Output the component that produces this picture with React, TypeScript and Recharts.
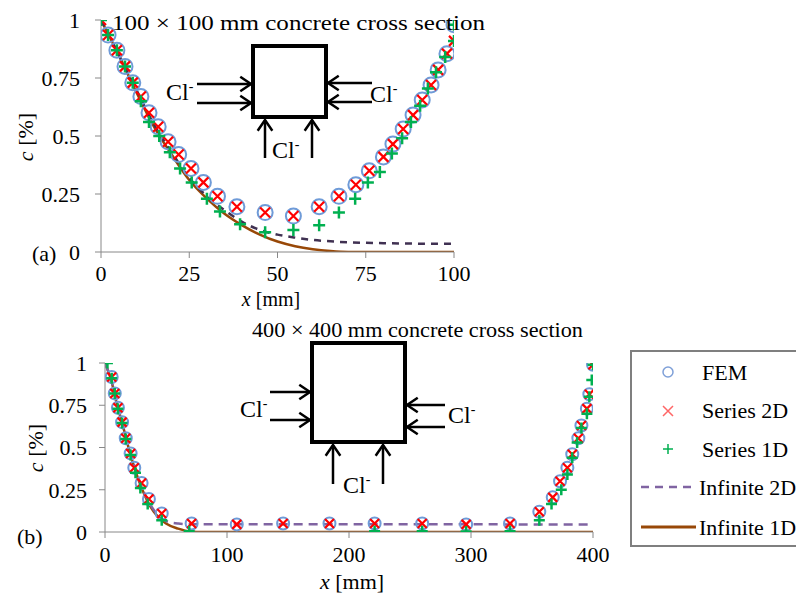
import React from "react";
import { ComposedChart, Line, Scatter, XAxis, YAxis } from "recharts";

type Pt = { x: number; y: number };
const pts = (a: number[][]): Pt[] => a.map(([x, y]) => ({ x, y }));

// (a) 100 x 100 mm section
const femA = pts([
  [2, 0.935], [4.5, 0.87], [6.8, 0.8], [9, 0.73], [11.3, 0.67], [13.6, 0.6], [16.2, 0.54],
  [19, 0.475], [22, 0.42], [25.5, 0.36], [29, 0.3], [33, 0.24], [38.5, 0.195], [46.5, 0.17],
  [54.5, 0.155], [61.8, 0.195], [67.4, 0.24], [72.2, 0.29], [76, 0.35], [80, 0.41],
  [82.7, 0.465], [85.6, 0.53], [88.4, 0.59], [91, 0.655], [93.5, 0.72], [95.5, 0.785],
  [98, 0.855], [100, 0.98],
]);
const series2dA = pts([
  [0, 1], [2, 0.935], [4.5, 0.87], [6.8, 0.8], [9, 0.73], [11.3, 0.67], [13.6, 0.6], [16.2, 0.54],
  [19, 0.475], [22, 0.42], [25.5, 0.36], [29, 0.3], [33, 0.24], [38.5, 0.195], [46.5, 0.17],
  [54.5, 0.155], [61.8, 0.195], [67.4, 0.24], [72.2, 0.29], [76, 0.35], [80, 0.41],
  [82.7, 0.465], [85.6, 0.53], [88.4, 0.59], [91, 0.655], [93.5, 0.72], [95.5, 0.785],
  [98, 0.855], [100, 0.91],
]);
const series1dA = pts([
  [0, 1], [2, 0.935], [4.5, 0.87], [6.8, 0.8], [9, 0.73], [11.3, 0.65], [13.6, 0.56], [16.5, 0.5],
  [19.5, 0.43], [22.4, 0.36], [25.7, 0.3], [30, 0.23], [33.7, 0.175], [39.4, 0.12], [46.5, 0.085],
  [54.5, 0.095], [61.8, 0.115], [67.4, 0.17], [72, 0.23], [75.6, 0.3], [79, 0.345], [82.4, 0.425],
  [85.3, 0.49], [87.8, 0.56], [90.4, 0.63], [92.6, 0.705], [94.9, 0.775], [97.5, 0.84],
  [100, 0.91], [100, 0.98],
]);
const inf2dA = pts([
  [0, 1], [5, 0.85], [10, 0.7], [15, 0.55], [20, 0.43], [25, 0.32], [30, 0.24], [35, 0.18],
  [40, 0.13], [45, 0.095], [50, 0.075], [55, 0.062], [60, 0.052], [65, 0.046], [70, 0.042],
  [80, 0.038], [100, 0.035],
]);
const inf1dA = pts([
  [0, 1], [5, 0.85], [10, 0.69], [15, 0.54], [20, 0.42], [25, 0.31], [30, 0.23], [35, 0.165],
  [40, 0.115], [45, 0.075], [50, 0.045], [55, 0.025], [60, 0.012], [65, 0.004], [70, 0], [100, 0],
]);

// (b) 400 x 400 mm section
const femB = pts([
  [5.5, 0.917], [8, 0.82], [10.6, 0.735], [14, 0.65], [17, 0.555], [21, 0.465], [24, 0.38],
  [30, 0.29], [36, 0.195], [46.5, 0.11], [71, 0.05], [108, 0.045], [146, 0.05], [184, 0.05],
  [221, 0.05], [260, 0.05], [296, 0.045], [332, 0.05], [356, 0.12], [367, 0.205], [373, 0.3],
  [379, 0.38], [383, 0.46], [388, 0.555], [390.5, 0.63], [395, 0.73], [397, 0.815], [400, 0.99],
]);
const series2dB = femB;
const series1dB = pts([
  [2, 1], [5.5, 0.91], [8, 0.82], [10.6, 0.73], [14, 0.645], [17, 0.55], [21, 0.455], [25, 0.35],
  [29, 0.26], [35, 0.165], [46.5, 0.07], [69, 0.005], [221, 0.005], [260, 0.005], [296, 0.003],
  [332, 0.005], [356, 0.07], [366, 0.165], [374, 0.25], [379, 0.34], [383, 0.44], [387, 0.53],
  [390.5, 0.615], [395, 0.7], [397, 0.8], [399, 0.9], [400, 0.99],
]);
const inf2dB = pts([
  [0, 1], [5, 0.9], [10, 0.76], [15, 0.62], [20, 0.49], [25, 0.37], [30, 0.27], [35, 0.19],
  [40, 0.13], [45, 0.09], [50, 0.065], [60, 0.05], [70, 0.046], [400, 0.045],
]);
const inf1dB = pts([
  [0, 1], [5, 0.9], [10, 0.75], [15, 0.62], [20, 0.48], [25, 0.36], [30, 0.26], [35, 0.18],
  [40, 0.12], [45, 0.08], [50, 0.05], [60, 0.02], [70, 0.003], [80, 0], [400, 0],
]);

const yTicks = [0, 0.25, 0.5, 0.75, 1];
const xTicksA = [0, 25, 50, 75, 100];
const xTicksB = [0, 100, 200, 300, 400];

const FONT = '"Liberation Serif", "Times New Roman", serif';
const AXIS = "#888888";
const BLUE = "#6F9BD8";
const RED = "#FF0000";
const GREEN = "#00B050";
const BROWN = "#984807";

const circleShape = (r: number) => (p: any) => (
  <circle cx={p.cx} cy={p.cy} r={r} fill="none" stroke={BLUE} strokeWidth={2} />
);
const crossShape = (h: number) => (p: any) => (
  <path d={`M${p.cx - h},${p.cy - h}L${p.cx + h},${p.cy + h}M${p.cx - h},${p.cy + h}L${p.cx + h},${p.cy - h}`} stroke={RED} strokeWidth={2.2} />
);
const plusShape = (h: number) => (p: any) => (
  <path d={`M${p.cx - h},${p.cy}L${p.cx + h},${p.cy}M${p.cx},${p.cy - h}L${p.cx},${p.cy + h}`} stroke={GREEN} strokeWidth={2.5} />
);

const tickStyle = { fill: "#000", fontSize: 22, fontFamily: FONT };

function Panel(props: {
  width: number; height: number; margin: any; xTicks: number[]; xMax: number;
  fem: Pt[]; s2: Pt[]; s1: Pt[]; i2: Pt[]; i1: Pt[]; dash: string; dashColor: string;
  r: number; h: number; xMargin: number; yMargin: number;
}) {
  const p = props;
  return (
    <ComposedChart width={p.width} height={p.height} margin={p.margin}>
      <XAxis type="number" dataKey="x" domain={[0, p.xMax]} ticks={p.xTicks} height={30}
        stroke={AXIS} tickSize={6} tickMargin={p.xMargin} tick={tickStyle} allowDataOverflow />
      <YAxis type="number" dataKey="y" domain={[0, 1]} ticks={yTicks} width={60}
        stroke={AXIS} tickSize={6} tickMargin={p.yMargin} tick={tickStyle} allowDataOverflow />
      <Line data={p.i1} dataKey="y" stroke={BROWN} strokeWidth={2.5} dot={false} isAnimationActive={false} type="monotone" />
      <Line data={p.i2} dataKey="y" stroke={p.dashColor} strokeWidth={2.5} strokeDasharray={p.dash} dot={false} isAnimationActive={false} type="monotone" />
      <Scatter data={p.fem} dataKey="y" shape={circleShape(p.r)} isAnimationActive={false} />
      <Scatter data={p.s2} dataKey="y" shape={crossShape(p.h)} isAnimationActive={false} />
      <Scatter data={p.s1} dataKey="y" shape={plusShape(p.h + 1)} isAnimationActive={false} />
    </ComposedChart>
  );
}

const Arrow = ({ x1, y1, x2, y2 }: { x1: number; y1: number; x2: number; y2: number }) => {
  const a = Math.atan2(y2 - y1, x2 - x1);
  const L = 13, s = 0.6;
  const p1 = [x2 - L * Math.cos(a - s), y2 - L * Math.sin(a - s)];
  const p2 = [x2 - L * Math.cos(a + s), y2 - L * Math.sin(a + s)];
  return (
    <g stroke="#000" strokeWidth={2.5} fill="none">
      <line x1={x1} y1={y1} x2={x2} y2={y2} />
      <polyline points={`${p1[0]},${p1[1]} ${x2},${y2} ${p2[0]},${p2[1]}`} />
    </g>
  );
};

const Cl = ({ x, y }: { x: number; y: number }) => (
  <text x={x} y={y} fontSize={24} fontFamily={FONT} fill="#000">
    Cl<tspan dy={-9} fontSize={14}>-</tspan>
  </text>
);

export default function App() {
  return (
    <div style={{ position: "absolute", left: 0, top: 0, width: 796, height: 594, background: "#fff", fontFamily: FONT }}>
      <div style={{ position: "absolute", left: 0, top: 0 }}>
        <Panel width={796} height={300} margin={{ top: 20, right: 342, bottom: 18, left: 41 }}
          xTicks={xTicksA} xMax={100} fem={femA} s2={series2dA} s1={series1dA} i2={inf2dA} i1={inf1dA}
          dash="7 6" dashColor="#403152" r={7.5} h={5} xMargin={7} yMargin={15} />
      </div>
      <div style={{ position: "absolute", left: 0, top: 330 }}>
        <Panel width={796} height={264} margin={{ top: 33, right: 203, bottom: 32, left: 45 }}
          xTicks={xTicksB} xMax={400} fem={femB} s2={series2dB} s1={series1dB} i2={inf2dB} i1={inf1dB}
          dash="9 6" dashColor="#8064A2" r={6} h={4.5} xMargin={8} yMargin={12} />
      </div>
      <svg width={796} height={594} style={{ position: "absolute", left: 0, top: 0, pointerEvents: "none" }}>
        <g fontFamily={FONT} fill="#000">
          <text x={112} y={30} fontSize={22} textLength={373} lengthAdjust="spacingAndGlyphs">100 × 100  mm concrete cross section</text>
          <text x={252} y={337} fontSize={22} textLength={331} lengthAdjust="spacingAndGlyphs">400 × 400 mm concrete cross section</text>
          <text x={32} y={261} fontSize={22}>(a)</text>
          <text x={17} y={544} fontSize={22}>(b)</text>
          <text x={25} y={137} fontSize={22} textAnchor="middle" dominantBaseline="central" transform="rotate(-90 25 137)">
            <tspan fontStyle="italic">c</tspan> [%]
          </text>
          <text x={35} y={448} fontSize={22} textAnchor="middle" dominantBaseline="central" transform="rotate(-90 35 448)">
            <tspan fontStyle="italic">c</tspan> [%]
          </text>
          <text x={271} y={306} fontSize={20} textAnchor="middle">
            <tspan fontStyle="italic">x</tspan> [mm]
          </text>
          <text x={352} y={589} fontSize={22} textAnchor="middle">
            <tspan fontStyle="italic">x</tspan> [mm]
          </text>
        </g>

        {/* inset (a) */}
        <rect x={253} y={46} width={73} height={71} fill="#fff" stroke="#000" strokeWidth={4} />
        <Arrow x1={197} y1={84} x2={251} y2={84} />
        <Arrow x1={197} y1={103} x2={251} y2={103} />
        <Arrow x1={372} y1={83} x2={328} y2={83} />
        <Arrow x1={372} y1={102} x2={328} y2={102} />
        <Arrow x1={265} y1={158} x2={265} y2={120} />
        <Arrow x1={312} y1={158} x2={312} y2={120} />
        <Cl x={166} y={100} />
        <Cl x={370} y={102} />
        <Cl x={272} y={158} />

        {/* inset (b) */}
        <rect x={312} y={343} width={93} height={99} fill="#fff" stroke="#000" strokeWidth={4} />
        <Arrow x1={270} y1={392} x2={310} y2={392} />
        <Arrow x1={270} y1={420} x2={310} y2={420} />
        <Arrow x1={445} y1={405} x2={407} y2={405} />
        <Arrow x1={445} y1={427} x2={407} y2={427} />
        <Arrow x1={333} y1={484} x2={333} y2={445} />
        <Arrow x1={383} y1={484} x2={383} y2={445} />
        <Cl x={240} y={417} />
        <Cl x={448} y={423} />
        <Cl x={343} y={493} />

        {/* legend */}
        <rect x={631} y={351} width={180} height={195} fill="#fff" stroke="#7F7F7F" strokeWidth={2} />
        <circle cx={668} cy={372} r={5} fill="none" stroke="#7FA0D8" strokeWidth={1.5} />
        <path d="M663,406L673,416M663,416L673,406" stroke="#FF6666" strokeWidth={1.5} />
        <path d="M663,449L673,449M668,444L668,454" stroke={GREEN} strokeWidth={1.5} />
        <line x1={641} y1={487} x2={694} y2={487} stroke="#8064A2" strokeWidth={2.5} strokeDasharray="8 6" />
        <line x1={641} y1={527} x2={696} y2={527} stroke={BROWN} strokeWidth={3} />
        <g fontFamily={FONT} fontSize={22} fill="#000">
          <text x={702} y={380}>FEM</text>
          <text x={702} y={418}>Series 2D</text>
          <text x={702} y={457}>Series 1D</text>
          <text x={699} y={495}>Infinite 2D</text>
          <text x={699} y={535}>Infinite 1D</text>
        </g>
      </svg>
    </div>
  );
}
